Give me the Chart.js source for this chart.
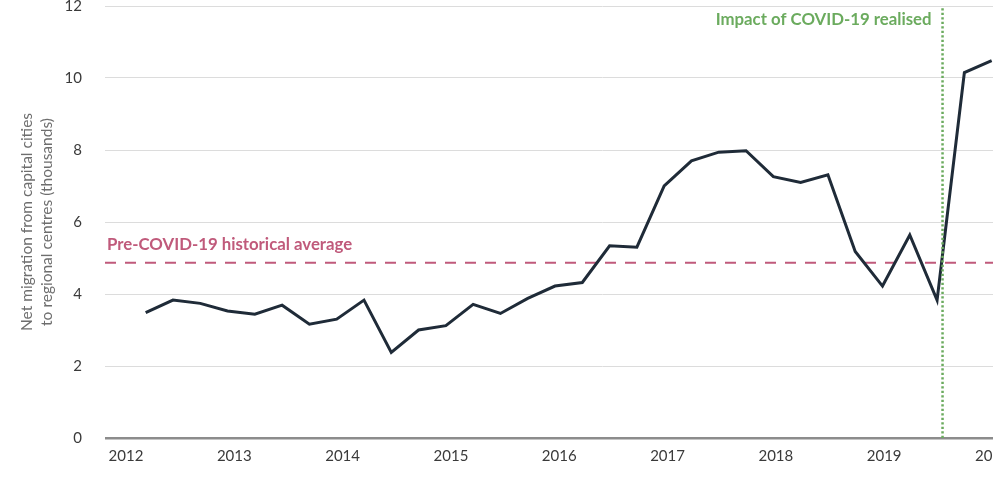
<!DOCTYPE html>
<html><head><meta charset="utf-8">
<script src="https://cdn.jsdelivr.net/npm/chart.js@4.4.1/dist/chart.umd.min.js"></script>
<style>
html,body{margin:0;padding:0;width:993px;height:493px;overflow:hidden;background:#fff;}
#wrap{position:absolute;left:0;top:-30px;width:1100px;height:523px;}
</style></head><body>
<div id="wrap"><canvas id="c" width="1100" height="523"></canvas></div>
<script>
// Tick labels
const yearLabels = ['2012','2013','2014','2015','2016','2017','2018','2019','2020'];
const yearTicks = [2012, 2013, 2014, 2015, 2016, 2017, 2018, 2019, 2020];
const yTicks = [0, 2, 4, 6, 8, 10, 12];
// Series: quarterly net migration (thousands)
const netMigration = [3.48, 3.83, 3.74, 3.53, 3.44, 3.69, 3.16, 3.30,
                      3.83, 2.38, 3.00, 3.12, 3.71, 3.46, 3.88, 4.22,
                      4.32, 5.34, 5.30, 7.00, 7.70, 7.94, 7.98, 7.26,
                      7.10, 7.31, 5.18, 4.22, 5.64, 3.83, 10.15, 10.48];
const preCovidAverage = 4.87;
const covidImpactQuarter = 29.2;
const avgLabel = 'Pre-COVID-19 historical average';
const covidLabel = 'Impact of COVID-19 realised';
const yTitle = ['Net migration from capital cities', 'to regional centres (thousands)'];

const xMin = -1.49, xMax = 34.97;
const yearMin = 2011.806, yearMax = 2020.993;

const PINK = '#c05a7b';
const GREEN = '#6bab5e';

const annotationText = {
  id: 'annotationText',
  afterDatasetsDraw(chart) {
    const {ctx, chartArea, scales: {x, y}} = chart;
    ctx.save();
    ctx.font = '700 16.8px Lato';
    ctx.textBaseline = 'middle';
    ctx.fillStyle = PINK;
    ctx.textAlign = 'left';
    ctx.fillText(avgLabel, chartArea.left + 2, y.getPixelForValue(preCovidAverage) - 18);
    ctx.fillStyle = GREEN;
    ctx.textAlign = 'right';
    ctx.fillText(covidLabel, x.getPixelForValue(covidImpactQuarter) - 11, chartArea.top + 14);
    ctx.restore();
  }
};

new Chart(document.getElementById('c'), {
  type: 'line',
  data: {
    datasets: [
      { label: 'Net migration', data: netMigration.map((v, i) => ({x: i, y: v})),
        borderColor: '#1f2b38', borderWidth: 3, pointRadius: 0, tension: 0, order: 1,
        borderJoinStyle: 'miter', xAxisID: 'x', yAxisID: 'y' },
      { label: 'Average', data: [{x: xMin, y: preCovidAverage}, {x: xMax, y: preCovidAverage}],
        borderColor: PINK, borderWidth: 2, borderDash: [11, 9], pointRadius: 0, order: 2,
        xAxisID: 'x', yAxisID: 'y' },
      { label: 'COVID', data: [{x: covidImpactQuarter, y: 0}, {x: covidImpactQuarter, y: 12}],
        borderColor: GREEN, borderWidth: 2.5, borderDash: [2.3, 2.2], pointRadius: 0, order: 0,
        xAxisID: 'x', yAxisID: 'y' }
    ]
  },
  options: {
    responsive: false,
    animation: false,
    devicePixelRatio: 1,
    layout: { padding: { top: 36, left: 0, right: 0, bottom: 0 } },
    plugins: { legend: { display: false }, tooltip: { enabled: false } },
    scales: {
      x: { type: 'linear', display: false, min: xMin, max: xMax },
      xYear: {
        type: 'linear', position: 'bottom', min: yearMin, max: yearMax,
        afterBuildTicks: s => { s.ticks = yearTicks.map(v => ({value: v})); },
        ticks: { callback: v => yearLabels[yearTicks.indexOf(v)], font: {family: 'Lato', size: 15},
                 color: '#3a3a3a', padding: 9, maxRotation: 0, autoSkip: false },
        grid: { display: false, drawTicks: false },
        border: { display: false },
        afterFit: s => { s.height = 55; }
      },
      y: {
        type: 'linear', position: 'left', min: 0, max: 12,
        afterBuildTicks: s => { s.ticks = yTicks.map(v => ({value: v})); },
        ticks: { font: {family: 'Lato', size: 15}, color: '#3a3a3a', padding: 23 },
        grid: { drawTicks: false,
                color: c => (c.tick && c.tick.value === 0) ? '#8c8c8c' : '#dcdcdc',
                lineWidth: c => (c.tick && c.tick.value === 0) ? 2.5 : 1 },
        border: { display: false },
        title: { display: true, text: yTitle, font: {family: 'Lato', size: 15.5, lineHeight: 1.3},
                 color: '#6e6e6e', padding: {top: 17, bottom: 0} },
        afterFit: s => { s.width = 105; }
      }
    }
  },
  plugins: [annotationText]
});
</script>
</body></html>
